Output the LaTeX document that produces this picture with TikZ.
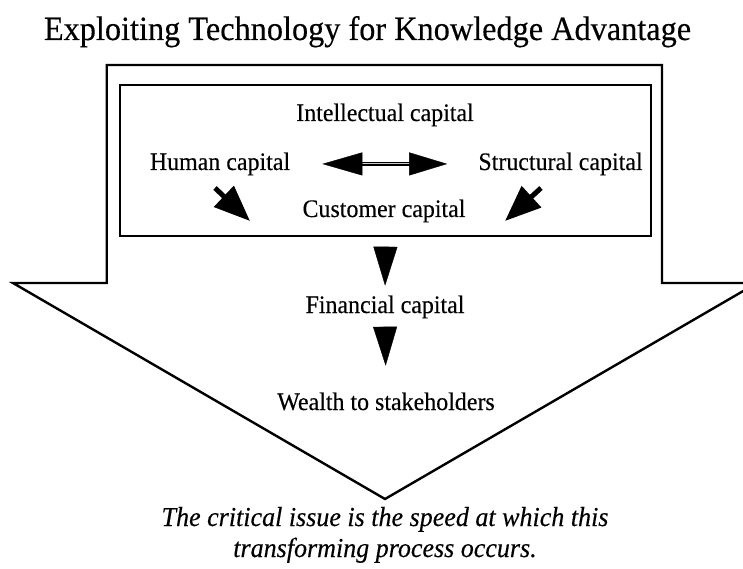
\documentclass[tikz,border=0pt]{standalone}
\usepackage{fontspec}
\setmainfont{Liberation Serif}[FakeStretch=0.95, FakeBold=0.3]
\usetikzlibrary{arrows.meta}

\tikzset{
  label/.style={inner sep=0pt, anchor=base, font=\fontsize{25.2}{29}\selectfont},
  frame/.style={line width=2.4pt, line join=miter},
  fat/.style={line width=5pt, -{Triangle[length=36pt,width=28pt]}},
  drop/.style={line width=0.4pt, -{Triangle[length=39pt,width=24pt]}},
}

\begin{document}
\begin{tikzpicture}[x=1pt,y=-1pt]
  \useasboundingbox (0,0) rectangle (743,569);
  \clip (0,0) rectangle (743,569);

  % heading
  \node[label, font=\fontsize{34}{40}\selectfont] (title) at (367.5,40)
    {Exploiting Technology for Knowledge Advantage};

  % large downward block arrow
  \draw[frame] (106.7,65) -- (662,65) -- (662,283) -- (757,283)
    -- (385,499) -- (13,283) -- (106.7,283) -- cycle;

  % inner frame around the intellectual capital group
  \node[draw, frame, minimum width=531pt, minimum height=151pt, inner sep=0pt]
    (inner) at (385.5,160.5) {};

  % texts
  \node[label] (intel) at (385,121) {Intellectual capital};
  \node[label] (human) at (220,170) {Human capital};
  \node[label] (struct) at (560.5,170) {Structural capital};
  \node[label] (cust) at (384,217) {Customer capital};
  \node[label] (fin) at (385,313) {Financial capital};
  \node[label] (wealth) at (386,410) {Wealth to stakeholders};
  \node[label, font=\fontsize{27.4}{32}\itshape] (note1) at (385,526)
    {The critical issue is the speed at which this};
  \node[label, font=\fontsize{27.4}{32}\itshape] (note2) at (385,557)
    {transforming process occurs.};

  % two-way arrow between human and structural capital
  \draw[line width=4.2pt, shorten <=70pt, shorten >=68pt] (human.east) -- (struct.west);
  \draw[line width=1pt, gray!40, shorten <=70pt, shorten >=68pt] (human.east) -- (struct.west);
  \draw[line width=0.4pt, {Triangle[length=40pt,width=23pt]}-{Triangle[length=38pt,width=23pt]},
        shorten <=32pt, shorten >=31pt] (human.east) -- (struct.west);

  % arrows into customer capital
  \coordinate (hc-a) at (215,188);
  \coordinate (hc-b) at (250,221);
  \coordinate (sc-a) at (541,188);
  \coordinate (sc-b) at (505,221);
  \draw[fat] (hc-a) -- (hc-b);
  \draw[fat] (sc-a) -- (sc-b);

  % downward flow
  \draw[drop, shorten <=12pt, shorten >=9.6pt] (inner.south) -- (fin.north);
  \draw[drop, shorten <=10pt, shorten >=26.6pt] (fin.south) -- (wealth.north);
\end{tikzpicture}
\end{document}
